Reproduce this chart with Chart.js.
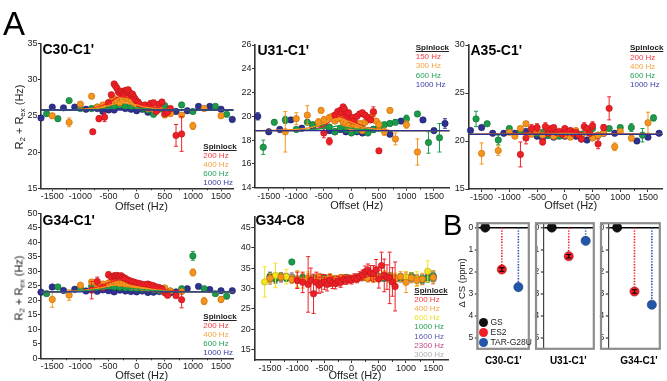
<!DOCTYPE html>
<html><head><meta charset="utf-8">
<script src="https://cdn.jsdelivr.net/npm/chart.js@4.4.1/dist/chart.umd.min.js"></script>
<style>
html,body{margin:0;padding:0;background:#fff}
body{width:667px;height:381px;position:relative;overflow:hidden;font-family:"Liberation Sans",Arial,Helvetica,sans-serif}
.cv{position:absolute}
.tx{position:absolute;white-space:nowrap;color:#111}
.dot{position:absolute;border-radius:50%}
sub{font-size:0.72em;vertical-align:-0.3em;line-height:0}
</style></head><body>
<script>
// ---------------- DATA ----------------
const xTicksA = [-1500,-1000,-500,0,500,1000,1500];
const xMinorA = [-1250,-750,-250,250,750,1250];
const c30YTicks = [15,20,25,30,35];
const u31YTicks = [14,16,18,20,22,24,26];
const a35YTicks = [15,20,25,30];
const g34YTicks = [0,5,10,15,20,25,30,35,40,45,50];
const g8YTicks = [15,20,25,30,35,40,45];
const bYTicks = [0,1,2,3,4,5];

// C30-C1'
const c30Legend = ['200 Hz','400 Hz','600 Hz','1000 Hz'];
const c30RedX = [-780,-670,-570,-500,-450, -400,-375,-350,-325,-300, -275,-250,-225,-200,-175, -150,-125,-100,-75,-50, -25,0,25,50,100, 150,200,250,300,350, 400,450,500,550,600, 700,800];
const c30RedY = [22.8,24.6,24.8,26.8,27.9, 29.4,29.1,28.8,28.3,28.1, 28.4,28.2,28.0,28.5,28.3, 28.6,28.2,27.9,28.0,27.6, 27.3,27.0,26.9,26.6,26.3, 26.5,26.2,26.7,26.8,25.6, 26.6,26.9,25.3,25.5,26.0, 22.3,22.5];
const c30RedE = [0.3,0.4,0.6,0.3,0.3, 0.3,0.3,0.3,0.3,0.3, 0.3,0.3,0.3,0.3,0.3, 0.3,0.3,0.3,0.3,0.3, 0.3,0.3,0.3,0.3,0.3, 0.3,0.3,0.3,0.3,0.3, 0.3,0.3,0.3,0.3,0.3, 1.5,2.4];
const c30OrangeX = [-1500,-1200,-1000,-800,-700, -600,-500,-450,-400,-350, -300,-250,-200,-150,-100, -50,0,50,100,150, 200,300,400,500,600, 800,1000,1200,1500];
const c30OrangeY = [25.0,24.1,26.6,27.7,26.2, 26.5,26.8,27.0,27.4,27.1, 26.8,27.2,27.6,27.3,27.0, 26.8,26.5,26.3,26.4,26.2, 26.0,25.9,26.1,25.1,25.3, 25.1,23.6,26.0,25.0];
const c30OrangeE = [0.3,0.6,0.3,0.3,0.3, 0.3,0.3,0.3,0.3,0.3, 0.3,0.3,0.3,0.3,0.3, 0.3,0.3,0.3,0.3,0.3, 0.3,0.3,0.3,0.3,0.3, 0.3,0.5,0.3,0.3];
const c30GreenX = [-1600,-1400,-1200,-1000,-800, -700,-600,-500,-400,-300, -200,-100,0,100,200, 300,400,500,600,800, 1000,1400,1600];
const c30GreenY = [25.3,24.6,27.1,26.0,26.0, 26.2,26.4,26.5,26.3,26.5, 26.3,26.2,26.3,26.0,25.8, 25.2,25.9,26.4,25.5,26.5, 25.6,26.3,25.2];
const c30GreenE = [0.3,0.3,0.3,0.3,0.3, 0.3,0.3,0.3,0.3,0.3, 0.3,0.3,0.3,0.3,0.3, 0.3,0.3,0.3,0.3,0.3, 0.3,0.3,0.3];
const c30BlueX = [-1700,-1500,-1300,-1100,-900, -700,-600,-500,-400,-300, -200,-100,0,100,200, 300,400,500,600,700, 900,1100,1300,1500,1700];
const c30BlueY = [24.7,26.2,26.1,26.2,25.9, 26.0,25.6,25.8,25.8,26.3, 26.0,25.9,25.7,25.9,25.5, 25.4,26.2,25.8,25.5,25.6, 25.7,26.3,26.3,25.9,24.5];
const c30BlueE = [0.3,0.3,0.3,0.3,0.3, 0.3,0.3,0.3,0.3,0.3, 0.3,0.3,0.3,0.3,0.3, 0.3,0.3,0.3,0.3,0.3, 0.3,0.3,0.3,0.3,0.3];
const c30FitX = [-1700,-1000,-700,-500,-350,-250,-150,0,150,300,500,800,1200,1720];
const c30FitRed = [25.8,25.9,26.2,26.8,27.5,27.7,27.5,27.0,26.5,26.2,25.9,25.8,25.8,25.8];
const c30FitOrange = [25.8,25.9,26.1,26.4,26.7,26.8,26.7,26.5,26.2,26.0,25.9,25.8,25.8,25.8];
const c30FitGreen = [25.8,25.8,25.9,26.0,26.2,26.2,26.2,26.1,26.0,25.9,25.8,25.8,25.8,25.8];
const c30FitBlue = [25.8,25.8,25.8,25.8,25.8,25.8,25.8,25.8,25.8,25.8,25.8,25.8,25.8,25.8];

// U31-C1'
const u31Legend = ['150 Hz','300 Hz','600 Hz','1000 Hz'];
const u31RedX = [-500,-400,-300,-250,-200, -175,-150,-125,-100,-75, -50,-25,0,25,50, 100,150,200,250,300, 350,400,500];
const u31RedY = [18.6,17.9,20.1,20.4,20.5, 20.3,20.8,20.6,20.2,20.0, 20.3,19.8,19.7,19.9,19.6, 20.0,20.2,20.3,20.1,19.9, 19.7,20.4,17.1];
const u31RedE = [0.4,0.3,0.2,0.2,0.2, 0.2,0.2,0.2,0.2,0.2, 0.2,0.2,0.2,0.2,0.2, 0.2,0.2,0.2,0.2,0.2, 0.2,0.4,0.2];
const u31OrangeX = [-1200,-1000,-800,-600,-550, -500,-400,-350,-300,-250, -200,-150,-100,-50,0, 50,100,150,200,250, 300,350,400,450,500, 600,700,800,1000,1200];
const u31OrangeY = [18.7,19.8,20.1,19.5,20.5, 19.7,19.9,20.0,19.6,19.8, 19.9,19.5,19.4,19.2,19.0, 19.3,19.1,19.4,18.8,19.5, 19.7,19.9,20.3,19.6,19.3, 18.7,20.5,18.1,19.3,17.0];
const u31OrangeE = [1.7,0.5,0.8,0.3,0.2, 0.3,0.2,0.2,0.2,0.2, 0.2,0.2,0.2,0.2,0.2, 0.2,0.2,0.2,0.2,0.2, 0.2,0.2,0.2,0.2,0.3, 0.3,0.2,0.5,0.3,1.1];
const u31GreenX = [-1600,-1400,-1200,-1000,-800, -700,-600,-500,-400,-300, -200,-100,0,100,200, 300,400,500,600,700, 800,1000,1200,1400,1600];
const u31GreenY = [17.4,19.5,19.7,18.9,19.5, 19.3,19.4,19.2,19.1,18.7, 19.0,18.9,18.6,18.8,19.0, 18.6,18.9,19.0,19.3,19.4, 19.5,19.8,20.2,17.8,18.2];
const u31GreenE = [0.6,0.2,0.3,0.2,0.2, 0.2,0.2,0.2,0.2,0.2, 0.2,0.2,0.2,0.2,0.2, 0.2,0.2,0.2,0.2,0.2, 0.2,0.3,0.2,0.9,1.2];
const u31BlueX = [-1700,-1500,-1300,-1100,-900, -700,-500,-400,-300,-200, -100,0,100,200,300, 400,500,700,900,1300, 1500,1700];
const u31BlueY = [20.0,18.7,18.9,19.7,19.0, 19.1,19.2,18.8,18.7,18.9, 18.7,18.8,18.7,18.6,18.8, 18.9,19.1,18.5,19.6,19.7, 18.8,19.4];
const u31BlueE = [0.3,0.2,0.2,0.2,0.2, 0.2,0.2,0.2,0.2,0.2, 0.2,0.2,0.2,0.2,0.2, 0.2,0.2,0.2,0.2,0.2, 0.2,0.4];
const u31FitX = [-1750,-1000,-700,-500,-350,-250,-150,0,150,300,500,800,1200,1780];
const u31FitRed = [18.8,18.8,18.9,19.2,19.7,20.0,19.9,19.6,19.3,19.0,18.9,18.8,18.8,18.8];
const u31FitOrange = [18.8,18.9,19.1,19.4,19.7,19.8,19.7,19.5,19.2,19.0,18.9,18.8,18.8,18.8];
const u31FitGreen = [18.8,18.8,18.9,19.0,19.1,19.2,19.1,19.0,18.9,18.9,18.8,18.8,18.8,18.8];
const u31FitBlue = [18.8,18.8,18.8,18.8,18.8,18.8,18.8,18.8,18.8,18.8,18.8,18.8,18.8,18.8];

// A35-C1'
const a35Legend = ['200 Hz','400 Hz','600 Hz','1000 Hz'];
const a35RedX = [-800,-700,-600,-500,-400, -350,-300,-250,-200,-150, -100,-50,0,50,100, 150,200,250,300,350, 400,450,500,600,700, 800];
const a35RedY = [18.6,20.3,21.3,21.4,19.9, 21.5,20.8,21.3,21.4,20.9, 21.0,20.7,21.3,20.9,21.1, 20.8,20.9,20.6,20.2,21.5, 21.3,20.8,21.6,19.7,21.4, 23.4];
const a35RedE = [1.3,0.6,0.4,0.4,0.3, 0.4,0.2,0.2,0.2,0.2, 0.2,0.2,0.2,0.2,0.2, 0.2,0.2,0.2,0.2,0.4, 0.2,0.2,0.4,0.5,0.3, 1.2];
const a35OrangeX = [-1500,-1200,-1000,-900,-800, -700,-600,-500,-400,-300, -200,-100,0,100,200, 300,400,500,600,700, 900,1000,1200,1500];
const a35OrangeY = [18.7,19.0,20.9,20.5,21.3, 21.8,20.7,21.0,20.6,20.9, 20.5,20.8,20.6,20.4,21.1, 20.5,20.9,20.3,20.6,20.8, 19.4,21.0,20.3,21.9];
const a35OrangeE = [1.1,0.5,0.2,0.2,0.2, 0.2,0.2,0.2,0.2,0.2, 0.2,0.2,0.2,0.2,0.2, 0.2,0.2,0.2,0.2,0.2, 0.4,0.2,0.3,1.1];
const a35GreenX = [-1600,-1400,-1200,-1000,-800, -600,-500,-400,-300,-200, -100,0,100,200,300, 400,500,600,800,1000, 1200,1400,1600];
const a35GreenY = [22.3,21.8,20.1,21.3,21.0, 21.2,20.8,20.9,20.6,20.7, 20.5,20.8,20.6,20.9,20.7, 21.1,21.3,20.6,21.3,21.4, 21.4,20.6,22.4];
const a35GreenE = [0.8,0.2,0.5,0.2,0.2, 0.2,0.2,0.2,0.2,0.2, 0.2,0.2,0.2,0.2,0.2, 0.2,0.2,0.2,0.2,0.2, 0.4,0.7,0.3];
const a35BlueX = [-1700,-1500,-1300,-1100,-900, -700,-500,-400,-300,-200, -100,0,100,200,300, 400,500,700,900,1300, 1500,1700];
const a35BlueY = [21.1,21.4,20.8,20.8,20.8, 21.0,20.5,20.3,20.6,20.4, 20.6,20.5,20.7,20.5,20.2, 20.1,20.4,20.8,20.8,20.0, 20.4,20.8];
const a35BlueE = [0.2,0.2,0.2,0.2,0.2, 0.2,0.2,0.2,0.2,0.2, 0.2,0.2,0.2,0.2,0.2, 0.2,0.2,0.2,0.2,0.2, 0.2,0.2];
const a35FitX = [-1740,-500,0,500,1760];
const a35FitRed = [20.7,20.8,20.9,20.8,20.7];
const a35FitOrange = [20.7,20.7,20.8,20.7,20.7];
const a35FitGreen = [20.7,20.7,20.7,20.7,20.7];
const a35FitBlue = [20.7,20.7,20.7,20.7,20.7];

// G34-C1'
const g34Legend = ['200 Hz','400 Hz','600 Hz','1000 Hz'];
const g34RedX = [-800,-700,-600,-500,-450, -400,-375,-350,-325,-300, -275,-250,-225,-200,-150, -100,-50,0,50,100, 150,200,250,300,350, 400,450,500,550,700, 800];
const g34RedY = [23.5,26.5,24.5,28.8,28.0, 28.5,28.3,28.6,28.4,28.2, 28.5,27.9,27.8,27.5,27.0, 26.6,26.3,26.0,25.8,25.5, 25.4,25.6,25.3,25.0,24.6, 24.4,24.0,22.6,21.7,21.6, 20.2];
const g34RedE = [3.0,1.5,1.0,1.0,0.6, 0.5,0.5,0.5,0.5,0.5, 0.5,0.5,0.5,0.5,0.5, 0.5,0.5,0.5,0.5,0.5, 0.5,0.5,0.5,0.5,0.5, 0.5,0.5,0.5,0.5,0.6, 2.8];
const g34OrangeX = [-1500,-1200,-1000,-800,-700, -600,-500,-450,-400,-350, -300,-250,-200,-150,-100, -50,0,100,200,300, 400,500,600,800,1000, 1200,1500];
const g34OrangeY = [20.3,21.8,25.2,26.3,25.0, 25.6,26.0,26.2,26.5,26.1, 25.8,25.9,25.5,25.2,25.0, 24.8,24.6,24.3,24.0,23.8, 23.7,24.3,23.2,23.0,29.6, 19.7,20.3];
const g34OrangeE = [2.7,1.8,0.6,0.5,0.5, 0.5,0.5,0.5,0.5,0.5, 0.5,0.5,0.5,0.5,0.5, 0.5,0.5,0.5,0.5,0.5, 0.5,0.5,0.5,0.5,1.2, 1.2,1.0];
const g34GreenX = [-1600,-1400,-1000,-800,-700, -600,-500,-400,-300,-200, -100,0,100,200,300, 400,500,600,800,1000, 1200,1400,1600];
const g34GreenY = [22.3,24.6,24.2,24.8,24.5, 24.9,25.0,24.6,24.4,24.2, 24.0,23.8,23.6,23.9,23.5, 23.4,23.6,23.2,24.0,35.3, 24.0,22.3,21.4];
const g34GreenE = [0.4,0.4,0.4,0.4,0.4, 0.4,0.4,0.4,0.4,0.4, 0.4,0.4,0.4,0.4,0.4, 0.4,0.4,0.4,0.4,1.5, 0.4,0.4,0.4];
const g34BlueX = [-1700,-1500,-1300,-1100,-900, -700,-600,-500,-400,-300, -200,-100,0,100,200, 300,400,500,600,700, 900,1100,1300,1500,1700];
const g34BlueY = [22.8,24.6,23.4,23.8,23.2, 23.1,23.6,23.3,22.9,23.5, 23.2,23.0,22.9,23.2,22.7, 22.8,23.0,22.9,22.6,22.9, 24.0,24.8,23.7,23.3,23.3];
const g34BlueE = [0.4,0.4,0.4,0.4,0.4, 0.4,0.4,0.4,0.4,0.4, 0.4,0.4,0.4,0.4,0.4, 0.4,0.4,0.4,0.4,0.4, 0.4,0.4,0.4,0.4,0.4];
const g34FitX = [-1700,-1200,-900,-700,-500,-350,-250,-100,50,200,400,600,900,1720];
const g34FitRed = [22.9,23.1,23.6,24.5,26.0,27.0,27.2,26.8,26.0,25.0,24.0,23.3,23.0,22.9];
const g34FitOrange = [22.9,23.1,23.5,24.1,24.9,25.3,25.3,25.0,24.5,24.0,23.5,23.1,23.0,22.9];
const g34FitGreen = [22.9,23.0,23.3,23.7,24.1,24.3,24.3,24.1,23.8,23.5,23.2,23.0,22.9,22.9];
const g34FitBlue = [22.9,22.9,22.9,22.9,22.9,22.9,22.9,22.9,22.9,22.9,22.9,22.9,22.9,22.9];

// G34-C8
const g8Legend = ['200 Hz','400 Hz','600 Hz','1000 Hz','1600 Hz','2300 Hz','3000 Hz'];
const g8RedX = [-1000,-900,-800,-750,-700, -650,-600,-550,-500,-450, -400,-350,-300,-250,-200, -150,-100,-50,0,50, 100,150,200,250,300, 350,400,450,500,550, 600,650,700,750,800];
const g8RedY = [32.0,31.5,31.0,32.0,28.7, 31.5,30.8,31.3,31.6,31.0, 32.0,31.4,31.2,31.8,31.5, 32.2,32.0,32.3,32.1,32.6, 32.4,33.0,33.3,34.1,34.5, 33.8,33.6,34.6,32.3,35.6, 33.2,32.8,32.6,31.6,30.5];
const g8RedE = [2.0,2.5,6.8,3.0,4.8, 2.5,2.0,2.2,1.8,1.6, 1.5,1.4,1.3,1.2,1.2, 1.1,1.0,1.0,1.0,1.0, 1.0,1.1,1.2,1.4,1.5, 1.8,2.0,2.5,2.2,3.3, 4.0,3.0,6.3,3.5,6.0];
const g8OrangeX = [-1500,-1300,-1100,-1000,-900, -800,-700,-600,-500,-400, -300,-200,-100,0,100, 200,300,400,500,600, 700,800,900,1000,1100, 1200,1300,1500];
const g8OrangeY = [32.5,32.8,32.2,32.3,31.9, 32.4,32.1,32.8,32.0,32.6, 32.3,32.7,32.5,32.2,32.6, 32.9,32.4,33.0,32.6,33.2, 32.7,32.4,32.9,31.5,32.6, 32.0,32.3,32.7];
const g8OrangeE = [1.2,1.0,1.0,2.0,1.8, 1.2,1.0,0.9,0.9,0.8, 0.8,0.7,0.7,0.7,0.7, 0.8,0.8,0.8,0.9,1.0, 1.0,1.1,1.2,2.5,1.2, 1.3,1.4,1.5];
const g8YellowX = [-1600,-1400,-1200,-1000,-800, -600,-400,-200,0,200, 400,600,800,1000,1200, 1400];
const g8YellowY = [31.6,33.2,32.9,32.3,32.6, 32.0,32.8,32.3,32.5,32.9, 32.4,33.3,32.6,32.8,32.3, 34.2];
const g8YellowE = [3.7,3.0,1.8,2.0,1.5, 1.0,0.8,0.7,0.7,0.8, 0.9,1.0,1.2,1.4,1.8, 2.6];
const g8GreenX = [-1500,-1400,-1300,-1200,-1100, -1000,-900,-800,-700,-600, -500,-400,-300,-200,-100, 0,100,200,300,400, 500,600,700,800,900, 1000,1100,1200,1300,1400, 1500];
const g8GreenY = [32.8,32.4,33.0,32.6,36.5, 32.2,32.7,32.5,32.4,32.0, 32.6,32.3,32.1,32.5,32.7, 32.4,32.8,32.6,33.0,32.7, 32.9,32.5,33.1,32.6,32.8, 32.5,33.0,32.3,32.2,32.6, 33.1];
const g8GreenE = [1.0,1.1,0.9,0.9,0.3, 0.8,0.7,0.7,0.7,0.6, 0.6,0.6,0.6,0.5,0.5, 0.5,0.5,0.5,0.6,0.6, 0.6,0.7,0.7,0.8,0.8, 0.9,0.9,1.0,1.0,1.1, 1.2];
const g8P1600X = [-1500,-1300,-1100,-900,-700, -500,-300,-100,100,300, 500,700,900,1100,1300, 1500];
const g8P1600Y = [33.0,32.7,32.4,32.5,32.3, 32.6,32.4,32.5,32.7,32.5, 32.8,32.6,32.4,32.7,32.3, 32.9];
const g8P1600E = [1.0,1.0,0.9,0.8,0.8, 0.7,0.6,0.6,0.6,0.6, 0.7,0.8,0.8,0.9,1.0, 1.1];
const g8P2300X = [-1400,-1200,-1000,-800,-600, -400,-200,0,200,400, 600,800,1000,1200,1400];
const g8P2300Y = [32.5,32.8,32.1,32.4,32.2, 32.6,32.3,32.5,32.7,32.4, 32.9,32.3,32.6,32.4,32.8];
const g8P2300E = [1.0,0.9,0.9,0.8,0.7, 0.6,0.6,0.6,0.6,0.6, 0.7,0.8,0.9,0.9,1.0];
const g8P3000X = [-1500,-1300,-1100,-900,-700, -500,-300,-100,100,300, 500,700,900,1100,1300, 1500];
const g8P3000Y = [32.2,32.6,32.9,32.3,32.5, 32.1,32.4,32.7,32.3,32.6, 32.5,32.2,32.8,32.4,32.1, 32.3];
const g8P3000E = [1.2,1.1,1.0,0.9,0.8, 0.7,0.6,0.6,0.6,0.6, 0.7,0.8,0.9,1.0,1.1, 1.2];

// Panel B: chemical shift differences (ppm)
const bLabels = ['GS','ES2','TAR-G28U'];
const bPanels = ["C30-C1'","U31-C1'","G34-C1'"];
const bC30 = [0,1.9,2.7];
const bU31 = [0,1.3,0.6];
const bG34 = [0,2.9,3.5];
const bErr = [0,0.08,0];

// ---------------- STYLE ----------------
const FONT = '"Liberation Sans", Arial, Helvetica, sans-serif';
Chart.defaults.font.family = FONT;
const COL = {red:'#ee2026', orange:'#f7941d', green:'#1c9b4b', blue:'#2e3192', yellow:'#f4e41c', p1600:'#5151aa', p2300:'#bd3b79', p3000:'#a9a9a9'};
const EDGE = {red:'#b3141a', orange:'#c06b05', green:'#0f6b31', blue:'#1b1d62', yellow:'#b9aa0a', p1600:'#33337a', p2300:'#8a2755', p3000:'#7c7c7c'};
const LEG = {red:'#f23a3e', orange:'#f7a23c', green:'#25a258', blue:'#3d41a6', yellow:'#efdf2a', p1600:'#5a5ab4', p2300:'#c34883', p3000:'#b0b0b0'};

function drawErr(chart, idx, top){
  const ds = chart.data.datasets[idx];
  if(!ds.errors || (!!ds.errTop) !== top) return;
  const ctx = chart.ctx, xs = chart.scales.x, ys = chart.scales.y;
  ctx.save();
  ctx.strokeStyle = ds.errColor || ds.backgroundColor;
  ctx.lineWidth = ds.errWidth || 1;
  ctx.beginPath();
  ds.data.forEach((p,i)=>{
    const e = ds.errors[i]; if(!e) return;
    const px = xs.getPixelForValue(p.x), a = ys.getPixelForValue(p.y+e), b = ys.getPixelForValue(p.y-e), c = ds.capW || 2;
    ctx.moveTo(px,a); ctx.lineTo(px,b);
    ctx.moveTo(px-c,a); ctx.lineTo(px+c,a);
    ctx.moveTo(px-c,b); ctx.lineTo(px+c,b);
  });
  ctx.stroke(); ctx.restore();
}
const errPlugin = {id:'errbars',
  beforeDatasetDraw(chart,args){ drawErr(chart,args.index,false); },
  afterDatasetDraw(chart,args){ drawErr(chart,args.index,true); }};
const minorPlugin = {id:'minor', afterDraw(chart,args,opts){
  if(!opts || !opts.values) return;
  const xs = chart.scales.x, ctx = chart.ctx, yb = chart.chartArea.bottom;
  ctx.save(); ctx.strokeStyle = '#333'; ctx.lineWidth = 1; ctx.beginPath();
  opts.values.forEach(v=>{ const px = Math.round(xs.getPixelForValue(v))+0.5; ctx.moveTo(px,yb); ctx.lineTo(px,yb+2); });
  ctx.stroke(); ctx.restore();
}};
const framePlugin = {id:'frame', afterDraw(chart,args,opts){
  if(!opts || opts.ext === undefined) return;
  const a = chart.chartArea, ctx = chart.ctx;
  ctx.save(); ctx.strokeStyle = '#8d8d8d'; ctx.lineWidth = 2.2;
  ctx.strokeRect(a.left-opts.ext, a.top, a.right-a.left+opts.ext, a.bottom-a.top);
  ctx.restore();
}};

function makeCanvas(L,T,W,H){
  const c = document.createElement('canvas');
  c.className = 'cv'; c.width = W; c.height = H;
  c.style.left = L+'px'; c.style.top = T+'px'; c.style.width = W+'px'; c.style.height = H+'px';
  document.body.appendChild(c);
  return c;
}
function toPts(xs, ys){ return xs.map((x,i)=>({x:x, y:ys[i]})); }

function panelA(p){
  const cv = makeCanvas(p.left,p.top,p.w,p.h);
  const datasets = [];
  (p.fits||[]).forEach((f,k)=>{
    datasets.push({type:'line', data:toPts(p.fitX,f.y), borderColor:COL[f.c], borderWidth:1.3, pointRadius:0,
      cubicInterpolationMode:'monotone', order:-1-k, clip:false});
  });
  p.series.forEach((s,k)=>{
    datasets.push({type:'scatter', data:toPts(s.x,s.y), errors:s.e, backgroundColor:COL[s.c], borderColor:EDGE[s.c],
      pointRadius:3.2, pointBorderWidth:0.6, order:k, clip:false});
  });
  const axisCommon = {
    border:{display:true, color:'#333', width:1.6},
    grid:{display:true, drawOnChartArea:false, drawTicks:true, tickLength:3, color:'#333', tickWidth:1}
  };
  new Chart(cv, {
    type:'scatter',
    data:{datasets},
    options:{
      responsive:false, animation:false, devicePixelRatio:1, events:[],
      layout:{padding:{top:p.padT, right:p.padR, left:0, bottom:0}},
      plugins:{legend:{display:false}, tooltip:{enabled:false}, minor:{values:xMinorA}},
      scales:{
        x:Object.assign({type:'linear', position:'bottom', min:p.xmin, max:p.xmax,
          afterBuildTicks:s=>{ s.ticks = xTicksA.map(v=>({value:v})); },
          afterFit:s=>{ s.height = p.hx; s.paddingLeft = 0; s.paddingRight = 0; },
          ticks:{font:{size:9, family:FONT}, color:'#222', padding:0, maxRotation:0, minRotation:0, autoSkip:false, callback:v=>String(v)}
        }, axisCommon),
        y:Object.assign({type:'linear', position:'left', min:p.ymin, max:p.ymax,
          afterBuildTicks:s=>{ s.ticks = p.yTicks.map(v=>({value:v})); },
          afterFit:s=>{ s.width = p.wy; s.paddingTop = 0; s.paddingBottom = 0; },
          ticks:{font:{size:9, family:FONT}, color:'#222', padding:0.5, autoSkip:false, callback:v=>String(v)}
        }, axisCommon)
      }
    },
    plugins:[errPlugin, minorPlugin]
  });
}

function panelB(p){
  const cv = makeCanvas(p.left,p.top,p.w,p.h);
  const cols = ['#111111','#ee2026','#2356a8'];
  const edges = ['#000000','#a01015','#153a78'];
  const datasets = [];
  [1,2].forEach(k=>{
    datasets.push({type:'line', data:[{x:k,y:0},{x:k,y:p.vals[k]}], borderColor:cols[k], borderWidth:1.6,
      borderDash:[1.4,1.4], pointRadius:0, order:10, clip:false});
  });
  [0,1,2].forEach(k=>{
    datasets.push({type:'scatter', data:[{x:k,y:p.vals[k]}], errors:[bErr[k]], errTop:true, errColor:'#000', errWidth:1.2, capW:2.5,
      backgroundColor:cols[k], borderColor:edges[k], pointRadius:4.6, pointBorderWidth:0.6, order:k, clip:false});
  });
  new Chart(cv, {
    type:'scatter',
    data:{datasets},
    options:{
      responsive:false, animation:false, devicePixelRatio:1, events:[],
      layout:{padding:{top:p.padT, right:p.padR, left:0, bottom:p.padB}},
      plugins:{legend:{display:false}, tooltip:{enabled:false}, frame:{ext:p.ext}},
      scales:{
        x:{type:'linear', display:false, min:p.xmin, max:p.xmax},
        y:{type:'linear', position:'left', reverse:true, min:-0.2, max:5.5,
          afterBuildTicks:s=>{ s.ticks = bYTicks.map(v=>({value:v})); },
          afterFit:s=>{ s.width = p.wy; s.paddingTop = 0; s.paddingBottom = 0; },
          ticks:{font:{size:8.5, family:FONT}, color:'#222', padding:1.5, autoSkip:false, callback:v=>String(v)},
          border:{display:true, color:'#444', width:1.2},
          grid:{display:true, drawOnChartArea:true, drawTicks:true, tickLength:2.5,
            color:c=> (c.tick && c.tick.value===0) ? '#000' : 'rgba(0,0,0,0)',
            lineWidth:c=> (c.tick && c.tick.value===0) ? 1.6 : 0,
            tickColor:'#111', tickWidth:1}
        }
      }
    },
    plugins:[errPlugin, framePlugin]
  });
}

function addText(html,x,y,o){
  o = o||{};
  const d = document.createElement('div'); d.className = 'tx'; d.innerHTML = html;
  const s = o.size||10; d.style.fontSize = s+'px'; d.style.lineHeight = s+'px';
  if(o.bold) d.style.fontWeight = 'bold';
  if(o.color) d.style.color = o.color;
  if(o.u) d.style.textDecoration = 'underline';
  d.style.left = x+'px'; d.style.top = y+'px';
  let t = o.align==='center' ? 'translate(-50%,-50%)' : 'translate(0,-50%)';
  if(o.rot) t += ' rotate(-90deg)';
  d.style.transform = t;
  document.body.appendChild(d);
}
function legend(x, yHead, ys, labels, keys){
  addText('Spinlock', x, yHead, {size:8, bold:true, u:true, color:'#222'});
  labels.forEach((l,i)=> addText(l, x, ys[i], {size:8, color:LEG[keys[i]]}));
}

// ---------------- BUILD ----------------
const K4 = ['red','orange','green','blue'];
panelA({left:0, top:38, w:238, h:165, wy:41, padT:5.3, padR:4, hx:14.7, xmin:-1700, xmax:1720, ymin:15, ymax:35, yTicks:c30YTicks,
  fitX:c30FitX, fits:[{c:'red',y:c30FitRed},{c:'orange',y:c30FitOrange},{c:'green',y:c30FitGreen},{c:'blue',y:c30FitBlue}],
  series:[{c:'red',x:c30RedX,y:c30RedY,e:c30RedE},{c:'orange',x:c30OrangeX,y:c30OrangeY,e:c30OrangeE},{c:'green',x:c30GreenX,y:c30GreenY,e:c30GreenE},{c:'blue',x:c30BlueX,y:c30BlueY,e:c30BlueE}]});
panelA({left:214, top:40, w:240, h:162, wy:41, padT:5, padR:2, hx:14.3, xmin:-1750, xmax:1780, ymin:14, ymax:26, yTicks:u31YTicks,
  fitX:u31FitX, fits:[{c:'red',y:u31FitRed},{c:'orange',y:u31FitOrange},{c:'green',y:u31FitGreen},{c:'blue',y:u31FitBlue}],
  series:[{c:'red',x:u31RedX,y:u31RedY,e:u31RedE},{c:'orange',x:u31OrangeX,y:u31OrangeY,e:u31OrangeE},{c:'green',x:u31GreenX,y:u31GreenY,e:u31GreenE},{c:'blue',x:u31BlueX,y:u31BlueY,e:u31BlueE}]});
panelA({left:427, top:40, w:240, h:163, wy:41.3, padT:5, padR:3, hx:14, xmin:-1740, xmax:1760, ymin:15, ymax:30, yTicks:a35YTicks,
  fitX:a35FitX, fits:[{c:'red',y:a35FitRed},{c:'orange',y:a35FitOrange},{c:'green',y:a35FitGreen},{c:'blue',y:a35FitBlue}],
  series:[{c:'red',x:a35RedX,y:a35RedY,e:a35RedE},{c:'orange',x:a35OrangeX,y:a35OrangeY,e:a35OrangeE},{c:'green',x:a35GreenX,y:a35GreenY,e:a35GreenE},{c:'blue',x:a35BlueX,y:a35BlueY,e:a35BlueE}]});
panelA({left:0, top:208, w:238, h:165, wy:41, padT:5.3, padR:4, hx:14.7, xmin:-1700, xmax:1720, ymin:0, ymax:50, yTicks:g34YTicks,
  fitX:g34FitX, fits:[{c:'red',y:g34FitRed},{c:'orange',y:g34FitOrange},{c:'green',y:g34FitGreen},{c:'blue',y:g34FitBlue}],
  series:[{c:'red',x:g34RedX,y:g34RedY,e:g34RedE},{c:'orange',x:g34OrangeX,y:g34OrangeY,e:g34OrangeE},{c:'green',x:g34GreenX,y:g34GreenY,e:g34GreenE},{c:'blue',x:g34BlueX,y:g34BlueY,e:g34BlueE}]});
panelA({left:213, top:210, w:240, h:164, wy:41.3, padT:7, padR:3, hx:14, xmin:-1790, xmax:1780, ymin:12.5, ymax:47.5, yTicks:g8YTicks,
  fitX:[], fits:[],
  series:[{c:'red',x:g8RedX,y:g8RedY,e:g8RedE},{c:'orange',x:g8OrangeX,y:g8OrangeY,e:g8OrangeE},{c:'yellow',x:g8YellowX,y:g8YellowY,e:g8YellowE},
    {c:'green',x:g8GreenX,y:g8GreenY,e:g8GreenE},{c:'p1600',x:g8P1600X,y:g8P1600Y,e:g8P1600E},{c:'p2300',x:g8P2300X,y:g8P2300Y,e:g8P2300E},{c:'p3000',x:g8P3000X,y:g8P3000Y,e:g8P3000E}]});

panelB({left:460, top:218, w:74, h:136, wy:17.3, padT:4.7, padB:2.3, padR:2, xmin:-0.48, xmax:2.63, ext:0, vals:bC30});
panelB({left:528, top:218, w:71, h:136, wy:15.3, padT:4.7, padB:2.3, padR:2, xmin:-0.5, xmax:2.48, ext:7.3, vals:bU31});
panelB({left:593, top:218, w:72, h:136, wy:15.3, padT:4.7, padB:2.3, padR:2.3, xmin:-0.51, xmax:2.46, ext:7.3, vals:bG34});

// ---------------- TEXT ----------------
addText('A', 3, 22.8, {size:33, color:'#000'});
addText('B', 443, 225, {size:29, color:'#000'});
addText("C30-C1'", 42.5, 48.8, {size:14, bold:true, color:'#000'});
addText("U31-C1'", 257.5, 50, {size:14, bold:true, color:'#000'});
addText("A35-C1'", 470.5, 50, {size:14, bold:true, color:'#000'});
addText("G34-C1'", 42.5, 220, {size:14, bold:true, color:'#000'});
addText("G34-C8", 255.5, 220, {size:14, bold:true, color:'#000'});
[[141.5,205.5],[356.7,205],[570.8,205],[141.7,375],[355,375]].forEach(p=>addText('Offset (Hz)', p[0], p[1], {size:11, align:'center', color:'#222'}));
const yTitle = 'R<sub>2</sub> + R<sub>ex</sub> (Hz)';
addText(yTitle, 19.2, 116.7, {size:11, align:'center', rot:true, color:'#222'});
addText(yTitle, 19.2, 287.5, {size:11, align:'center', rot:true, color:'#222'});

legend(203.3, 146.7, [156,165,174,183.3], c30Legend, K4);
legend(415.7, 48.3, [57.3,66.2,75.5,84.8], u31Legend, K4);
legend(630, 48.3, [57.5,66.7,76,85.3], a35Legend, K4);
legend(203.3, 316.7, [325.7,334.5,344,353.3], g34Legend, K4);
legend(414.3, 290.7, [299.5,309,318.3,327,336.5,345.8,355], g8Legend, ['red','orange','yellow','green','p1600','p2300','p3000']);

addText('&Delta; CS (ppm)', 462, 282.5, {size:9.5, align:'center', rot:true, color:'#222'});
[503.3,568.3,639].forEach((x,i)=>addText(bPanels[i], x, 360.7, {size:10, bold:true, align:'center', color:'#000'}));
const bDotCols = ['#111111','#ee2026','#2356a8'];
[322.3,332.3,342.3].forEach((y,i)=>{
  const d = document.createElement('div'); d.className='dot';
  d.style.left=(483.3-4.6)+'px'; d.style.top=(y-4.6)+'px'; d.style.width='9.2px'; d.style.height='9.2px'; d.style.background=bDotCols[i];
  document.body.appendChild(d);
  addText(bLabels[i], 490.5, y, {size:8.5, color:'#222'});
});
</script>
</body></html>
